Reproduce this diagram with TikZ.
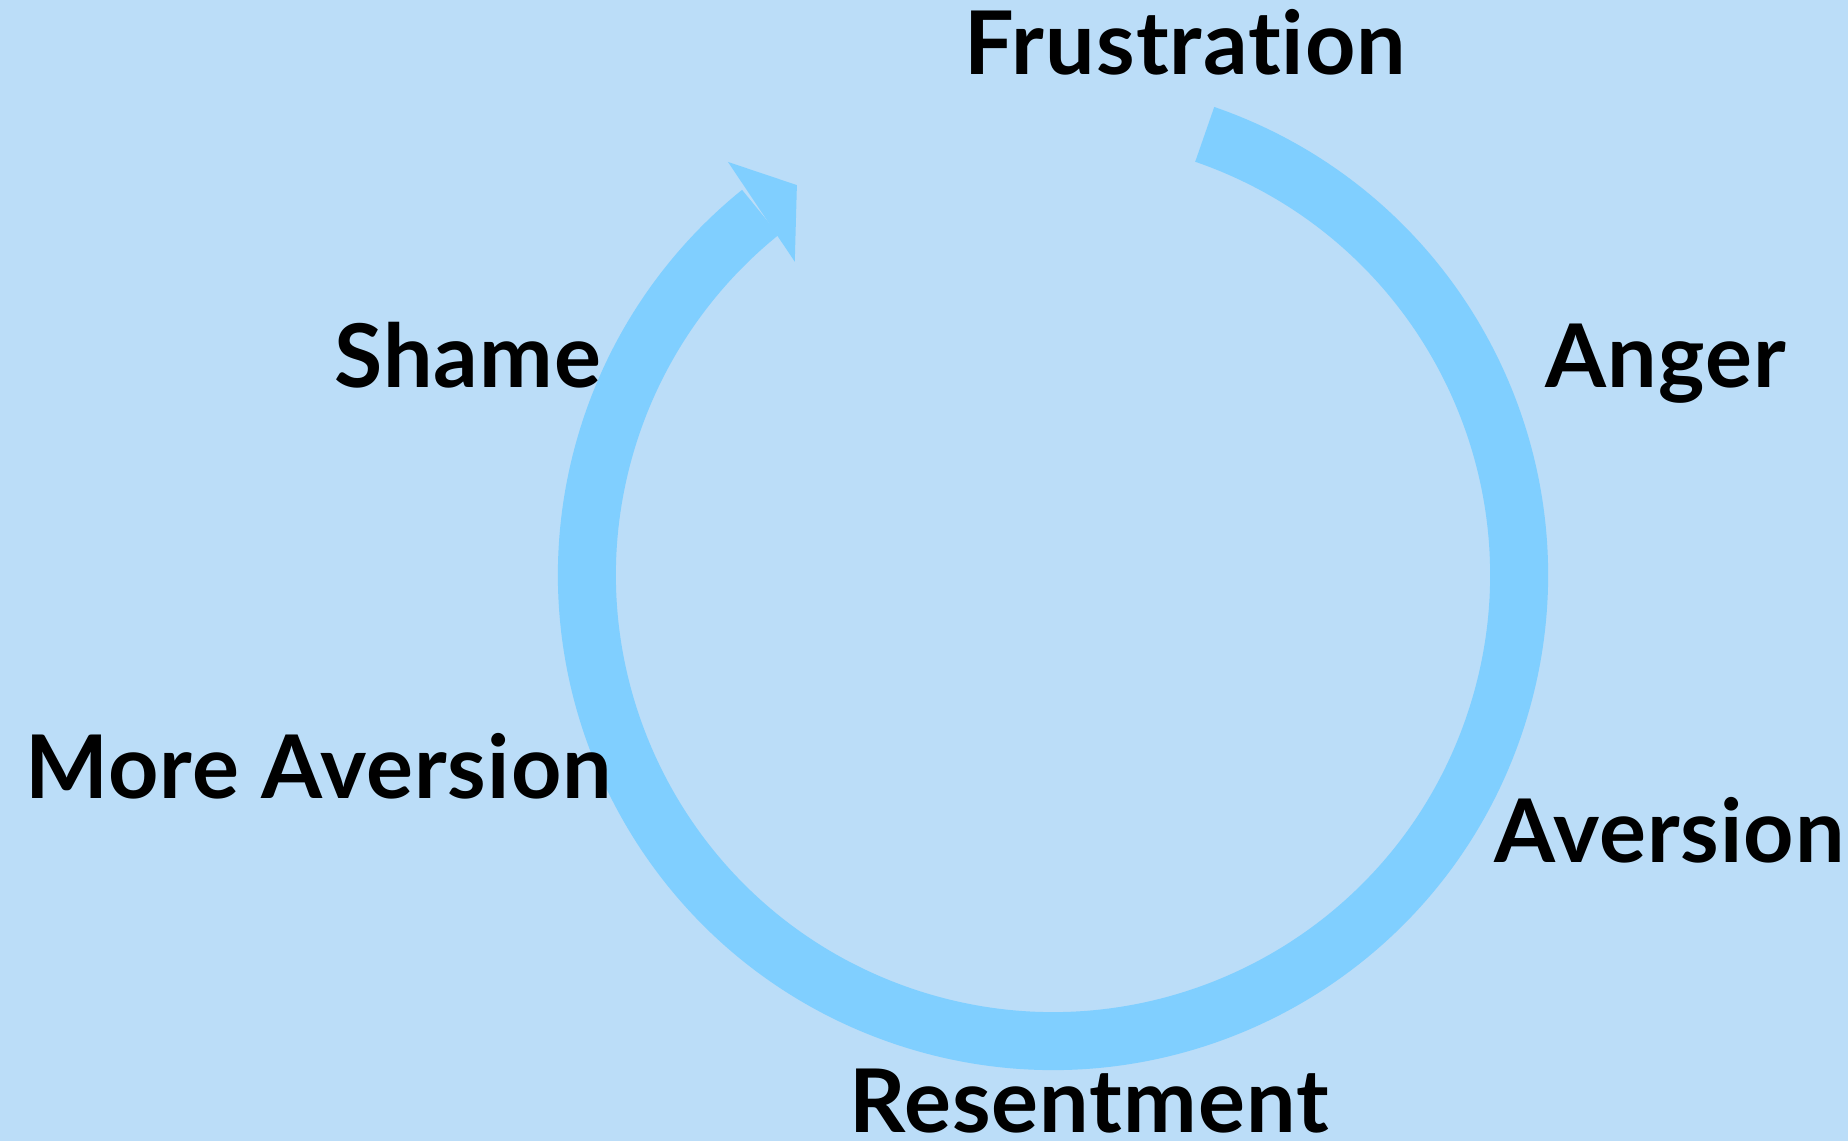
\documentclass[tikz,border=0pt]{standalone}
\usepackage{fontspec}
\setmainfont{Lato}[Ligatures=NoCommon, LetterSpace=1.2]
\usetikzlibrary{calc}

\definecolor{sky}{HTML}{BBDDF8}
\definecolor{ring}{HTML}{80CFFF}

\tikzset{
  feeling/.style={anchor=base west, inner sep=0pt, font=\fontsize{25}{29}\selectfont\bfseries},
  loopband/.style={draw=ring, line width=0.58cm},
}

\begin{document}
\begin{tikzpicture}
  \fill [sky] (0,0) rectangle (18.48,11.41);
  \coordinate (c) at (10.53,5.66);
  % the big ring, clockwise from the top right
  \draw [loopband] (c) ++(71:4.66) arc [start angle=71, end angle=-231.1, radius=4.66];
  \fill [ring] ($(c)+(128.2:5.256)$) -- ($(c)+(123.3:4.665)$) -- ($(c)+(129.5:4.06)$) -- cycle;

  \node [feeling] (frustration) at (9.64,10.66) {Frustration};
  \node [feeling] (anger) at (15.45,7.53) {Anger};
  \node [feeling] (aversion) at (14.94,2.78) {Aversion};
  \node [feeling] (resentment) at (8.49,0.08) {Resentment};
  \node [feeling] (moreaversion) at (0.25,3.42) {More Aversion};
  \node [feeling] (shame) at (3.34,7.53) {Shame};
\end{tikzpicture}
\end{document}
